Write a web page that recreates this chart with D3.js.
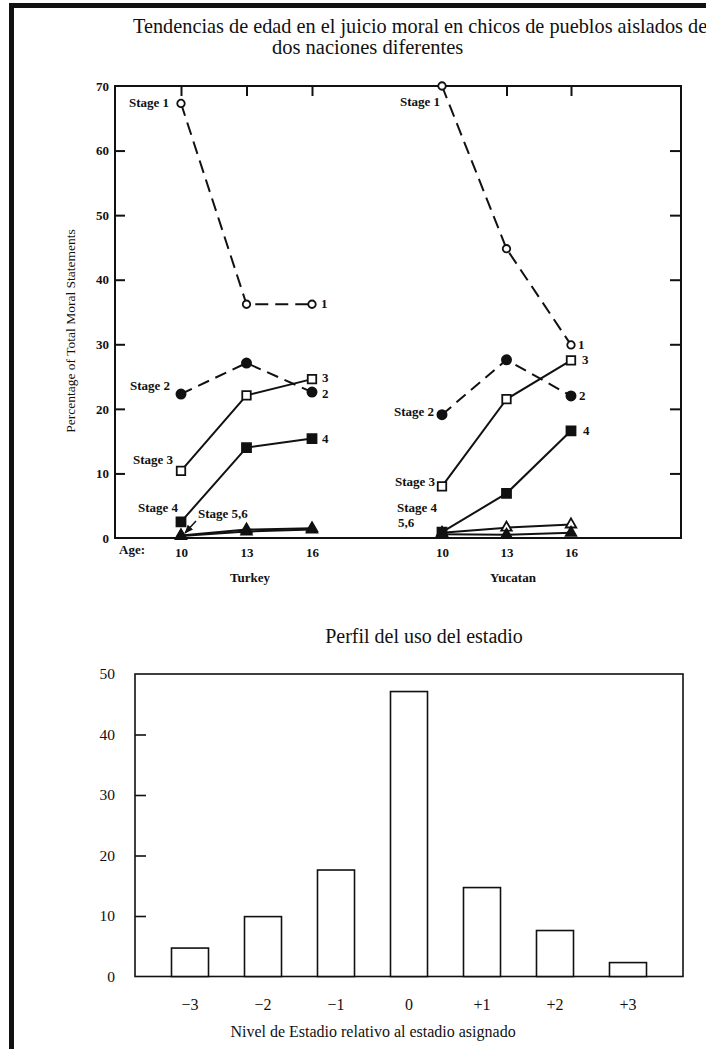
<!DOCTYPE html>
<html>
<head>
<meta charset="utf-8">
<script src="https://cdn.jsdelivr.net/npm/d3@7"></script>
<style>
  body { margin: 0; background: #fff; }
  text { font-family: "Liberation Serif", "Times New Roman", serif; fill: #111; }
  .bold text, text.bold { font-weight: bold; }
</style>
</head>
<body>
<div class="chart"></div>
<script>
  // --- data: moral judgement by age (percent of total moral statements)
  var ages = [10, 13, 16];
  var turkeyStage1 = [67.3, 36.2, 36.2];
  var turkeyStage2 = [22.3, 27.1, 22.6];
  var turkeyStage3 = [10.4, 22.1, 24.6];
  var turkeyStage4 = [2.5, 14.0, 15.4];
  var turkeyStage5 = [0.4, 1.3, 1.5];
  var turkeyStage6 = [0.3, 1.0, 1.3];

  var yucatanStage1 = [70, 44.8, 29.9];
  var yucatanStage2 = [19.1, 27.6, 22.0];
  var yucatanStage3 = [8.0, 21.5, 27.5];
  var yucatanStage4 = [0.9, 6.9, 16.6];
  var yucatanStage5 = [0.8, 1.6, 2.1];
  var yucatanStage6 = [0.6, 0.5, 0.8];

  var pctTicks = [0, 10, 20, 30, 40, 50, 60, 70];

  // --- data: stage usage profile
  var levels = ["\u22123", "\u22122", "\u22121", "0", "+1", "+2", "+3"];
  var levelPct = [4.7, 9.9, 17.6, 47.1, 14.7, 7.6, 2.3];
  var usoTicks = [0, 10, 20, 30, 40, 50];

  var ink = "#111";

  var svg = d3.select(".chart").append("svg")
    .attr("width", 706)
    .attr("height", 1049);

  // scan border
  svg.append("rect").attr("x", 9).attr("y", 3).attr("width", 697).attr("height", 5).attr("fill", ink);
  svg.append("rect").attr("x", 9).attr("y", 3).attr("width", 5).attr("height", 1046).attr("fill", ink);

  // title
  svg.append("text").attr("x", 133).attr("y", 33).style("font-size", "20.3px")
    .text("Tendencias de edad en el juicio moral en chicos de pueblos aislados de");
  svg.append("text").attr("x", 272).attr("y", 54).style("font-size", "20.5px")
    .text("dos naciones diferentes");

  // ================= top chart =================
  var frame = {left: 115, right: 681, top: 86, bottom: 538};

  var y = d3.scaleLinear().domain([0, 70]).range([frame.bottom, frame.top]);
  var xTurkey = d3.scaleLinear().domain([10, 16]).range([181, 312]);
  var xYucatan = d3.scaleLinear().domain([10, 16]).range([442, 571]);

  var upper = svg.append("g");

  upper.append("rect")
    .attr("x", frame.left).attr("y", frame.top)
    .attr("width", frame.right - frame.left).attr("height", frame.bottom - frame.top)
    .attr("fill", "none").attr("stroke", ink).attr("stroke-width", 2);

  // left axis (inward ticks, bold labels)
  var leftAxis = upper.append("g")
    .attr("class", "bold")
    .attr("transform", "translate(" + frame.left + ",0)")
    .call(d3.axisLeft(y).tickValues(pctTicks).tickSize(-10).tickPadding(6));
  leftAxis.select(".domain").remove();
  leftAxis.selectAll("line").attr("stroke", ink).attr("stroke-width", 2)
    .filter(function(d) { return d == 0 || d == 70; }).remove();
  leftAxis.selectAll("text").style("font-size", "13px").style("font-family", "Liberation Serif");

  // right axis ticks
  var rightAxis = upper.append("g")
    .attr("transform", "translate(" + frame.right + ",0)")
    .call(d3.axisRight(y).tickValues([10, 20, 30, 40, 50, 60]).tickSize(-11).tickFormat(""));
  rightAxis.select(".domain").remove();
  rightAxis.selectAll("line").attr("stroke", ink).attr("stroke-width", 2);

  // top ticks
  var topT = upper.append("g")
    .attr("transform", "translate(0," + frame.top + ")")
    .call(d3.axisTop(xTurkey).tickValues(ages).tickSize(-10).tickFormat(""));
  topT.select(".domain").remove();
  topT.selectAll("line").attr("stroke", ink).attr("stroke-width", 2);
  var topY = upper.append("g")
    .attr("transform", "translate(0," + frame.top + ")")
    .call(d3.axisTop(xYucatan).tickValues([13, 16]).tickSize(-10).tickFormat(""));
  topY.select(".domain").remove();
  topY.selectAll("line").attr("stroke", ink).attr("stroke-width", 2);

  // bottom age labels
  [xTurkey, xYucatan].forEach(function(x) {
    var ax = upper.append("g")
      .attr("class", "bold")
      .attr("transform", "translate(0," + frame.bottom + ")")
      .call(d3.axisBottom(x).tickValues(ages).tickFormat(d3.format("d")).tickSize(0).tickPadding(10));
    ax.select(".domain").remove();
    ax.selectAll("text").style("font-size", "13px").style("font-family", "Liberation Serif");
  });
  upper.append("text").attr("class", "bold").attr("x", 119).attr("y", 554)
    .style("font-size", "13px").text("Age:");
  upper.append("text").attr("class", "bold").attr("x", 250).attr("y", 582)
    .attr("text-anchor", "middle").style("font-size", "13px").text("Turkey");
  upper.append("text").attr("class", "bold").attr("x", 513).attr("y", 582)
    .attr("text-anchor", "middle").style("font-size", "13px").text("Yucatan");

  upper.append("text")
    .attr("transform", "translate(75,331) rotate(-90)")
    .attr("text-anchor", "middle")
    .style("font-size", "13.5px")
    .text("Percentage of Total Moral Statements");

  // series styles: stage 1..6
  var looks = [
    {dash: "13,7", shape: d3.symbolCircle, size: 44, fill: "#fff"},
    {dash: "12,7", shape: d3.symbolCircle, size: 66, fill: ink},
    {dash: null, shape: d3.symbolSquare, size: 72, fill: "#fff"},
    {dash: null, shape: d3.symbolSquare, size: 81, fill: ink},
    {dash: null, shape: d3.symbolTriangle, size: 48, fill: "#fff"},
    {dash: null, shape: d3.symbolTriangle, size: 48, fill: ink}
  ];

  svg.append("defs").append("marker")
    .attr("id", "arrow")
    .attr("viewBox", "0 0 10 10")
    .attr("refX", 9).attr("refY", 5)
    .attr("markerWidth", 6).attr("markerHeight", 6)
    .attr("orient", "auto")
    .append("path").attr("d", "M0,1L10,5L0,9Z").attr("fill", ink);

  function drawPanel(x, series, startLabels, endLabels) {
    var g = upper.append("g");
    var line = d3.line()
      .x(function(d, i) { return x(ages[i]); })
      .y(function(d) { return y(d); });

    series.forEach(function(s, k) {
      g.append("path")
        .attr("d", line(s))
        .attr("fill", "none")
        .attr("stroke", ink)
        .attr("stroke-width", 2)
        .attr("stroke-dasharray", looks[k].dash);
    });
    series.forEach(function(s, k) {
      g.selectAll(".m" + k)
        .data(s)
        .enter().append("path")
        .attr("transform", function(d, i) { return "translate(" + x(ages[i]) + "," + y(d) + ")"; })
        .attr("d", d3.symbol().type(looks[k].shape).size(looks[k].size))
        .attr("fill", looks[k].fill)
        .attr("stroke", ink)
        .attr("stroke-width", 1.8);
    });

    startLabels.forEach(function(l) {
      var px = x(ages[0]), py = y(series[l.s][0]);
      g.append("text").attr("class", "bold")
        .attr("x", px + l.dx).attr("y", py + l.dy)
        .attr("text-anchor", l.anchor)
        .style("font-size", "13px")
        .text(l.text);
      if (l.arrow) {
        g.append("line")
          .attr("x1", px + l.dx - 2).attr("y1", py + l.dy + 3)
          .attr("x2", px + 4).attr("y2", py - 3)
          .attr("stroke", ink).attr("stroke-width", 1.5)
          .attr("marker-end", "url(#arrow)");
      }
    });
    endLabels.forEach(function(l) {
      g.append("text").attr("class", "bold")
        .attr("x", x(ages[2]) + l.dx).attr("y", y(series[l.s][2]) + l.dy)
        .style("font-size", "13px")
        .text(l.text);
    });
  }

  drawPanel(xTurkey,
    [turkeyStage1, turkeyStage2, turkeyStage3, turkeyStage4, turkeyStage5, turkeyStage6],
    [
      {text: "Stage 1", s: 0, dx: -12, dy: 4, anchor: "end"},
      {text: "Stage 2", s: 1, dx: -11, dy: -4, anchor: "end"},
      {text: "Stage 3", s: 2, dx: -8, dy: -7, anchor: "end"},
      {text: "Stage 4", s: 3, dx: -3, dy: -10, anchor: "end"},
      {text: "Stage 5,6", s: 5, dx: 17, dy: -18, anchor: "start", arrow: true}
    ],
    [
      {text: "1", s: 0, dx: 9, dy: 4},
      {text: "3", s: 2, dx: 10, dy: 3},
      {text: "2", s: 1, dx: 10, dy: 6},
      {text: "4", s: 3, dx: 10, dy: 4}
    ]);

  drawPanel(xYucatan,
    [yucatanStage1, yucatanStage2, yucatanStage3, yucatanStage4, yucatanStage5, yucatanStage6],
    [
      {text: "Stage 1", s: 0, dx: -2, dy: 20, anchor: "end"},
      {text: "Stage 2", s: 1, dx: -8, dy: 1, anchor: "end"},
      {text: "Stage 3", s: 2, dx: -7, dy: 0, anchor: "end"},
      {text: "Stage 4", s: 3, dx: -45, dy: -20, anchor: "start"},
      {text: "5,6", s: 5, dx: -44, dy: -7, anchor: "start"}
    ],
    [
      {text: "1", s: 0, dx: 7, dy: 4},
      {text: "3", s: 2, dx: 11, dy: 4},
      {text: "2", s: 1, dx: 8, dy: 4},
      {text: "4", s: 3, dx: 12, dy: 4}
    ]);

  // ================= bottom chart =================
  var box = {left: 135, right: 683, top: 674, bottom: 976.5};

  var x2 = d3.scaleBand()
    .domain(levels)
    .range([box.left, box.right])
    .paddingInner(0.493)
    .paddingOuter(0.5);
  var y2 = d3.scaleLinear().domain([0, 50]).range([box.bottom, box.top]);

  var lower = svg.append("g");

  lower.append("text")
    .attr("x", 424).attr("y", 643)
    .attr("text-anchor", "middle")
    .style("font-size", "20px")
    .text("Perfil del uso del estadio");

  lower.append("rect")
    .attr("x", box.left).attr("y", box.top)
    .attr("width", box.right - box.left).attr("height", box.bottom - box.top)
    .attr("fill", "none").attr("stroke", ink).attr("stroke-width", 1.6);

  lower.selectAll(".bar")
    .data(levelPct)
    .enter().append("rect")
    .attr("class", "bar")
    .attr("x", function(d, i) { return x2(levels[i]); })
    .attr("width", x2.bandwidth())
    .attr("y", function(d) { return y2(d); })
    .attr("height", function(d) { return box.bottom - y2(d); })
    .attr("fill", "#fff")
    .attr("stroke", ink)
    .attr("stroke-width", 1.6);

  var yAx = lower.append("g")
    .attr("transform", "translate(" + box.left + ",0)")
    .call(d3.axisLeft(y2).tickValues(usoTicks).tickSize(-11).tickPadding(20));
  yAx.select(".domain").remove();
  yAx.selectAll("line").attr("stroke", ink).attr("stroke-width", 1.6)
    .filter(function(d) { return d == 0 || d == 50; }).remove();
  yAx.selectAll("text").style("font-size", "15.5px").style("font-family", "Liberation Serif");

  var xAx = lower.append("g")
    .attr("transform", "translate(0," + box.bottom + ")")
    .call(d3.axisBottom(x2).tickSize(0).tickPadding(22));
  xAx.select(".domain").remove();
  xAx.selectAll("text").style("font-size", "16px").style("font-family", "Liberation Serif");

  lower.append("text")
    .attr("x", 373).attr("y", 1037)
    .attr("text-anchor", "middle")
    .style("font-size", "16px")
    .text("Nivel de Estadio relativo al estadio asignado");
</script>
</body>
</html>
